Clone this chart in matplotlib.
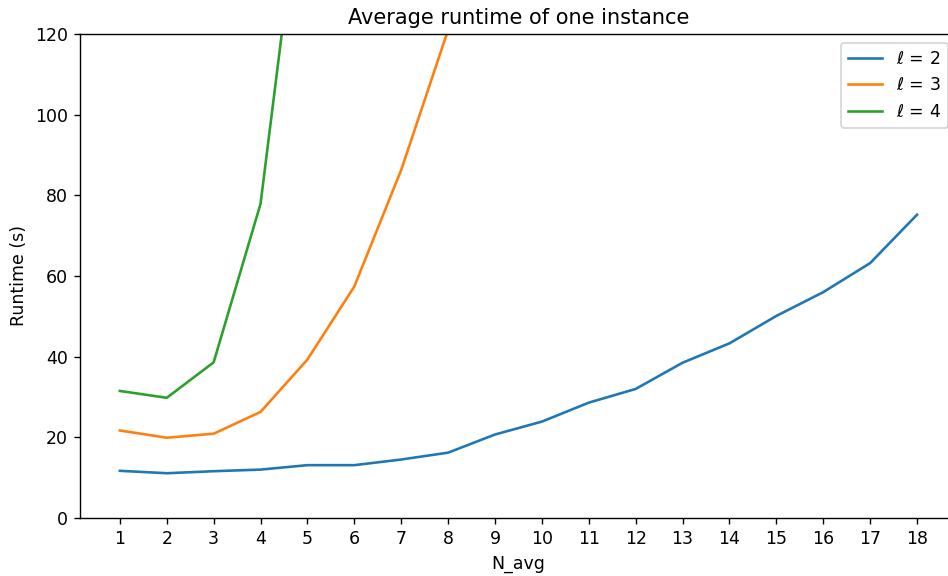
import matplotlib
matplotlib.use('Agg')
import matplotlib.pyplot as plt

# Average runtime per instance (s)
n_avg = list(range(1, 19))
runtime_l2 = [11.7, 11.1, 11.6, 12.0, 13.1, 13.1, 14.5, 16.2, 20.7, 23.9,
              28.6, 32.0, 38.5, 43.3, 50.1, 56.0, 63.2, 75.2]
n_avg_l3 = list(range(1, 9))
runtime_l3 = [21.7, 19.9, 20.9, 26.3, 39.3, 57.4, 86.3, 121.0]
n_avg_l4 = list(range(1, 6))
runtime_l4 = [31.5, 29.8, 38.6, 77.9, 171.0]

# original was rendered at a higher dpi, so scale everything up
fig = plt.figure(figsize=(948 / 125, 576 / 125), dpi=125)
# axes run slightly past the right edge, like the cropped original
ax = fig.add_axes([0.0844, 0.1007, 0.925, 0.8403])

ax.plot(n_avg, runtime_l2, label=r'$\ell$ = 2')
ax.plot(n_avg_l3, runtime_l3, label=r'$\ell$ = 3')
ax.plot(n_avg_l4, runtime_l4, label=r'$\ell$ = 4')

ax.set_xlim(0.15, 18.85)
ax.set_ylim(0, 120)
ax.set_xticks(n_avg)
ax.set_title('Average runtime of one instance')
ax.set_xlabel('N_avg')
ax.set_ylabel('Runtime (s)')
ax.legend(loc='upper right')

fig.savefig('out.png', dpi=125)
